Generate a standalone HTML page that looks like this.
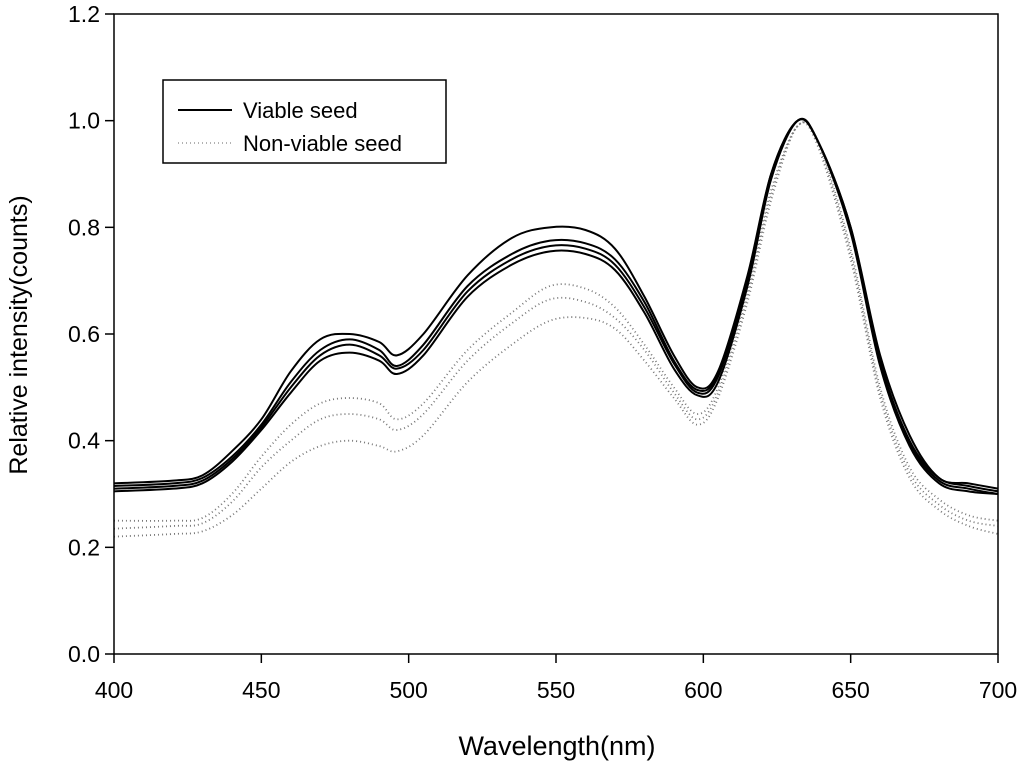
<!DOCTYPE html>
<html><head><meta charset="utf-8"><style>
html,body{margin:0;padding:0;background:#fff;}
svg{display:block;font-family:"Liberation Sans",Arial,sans-serif;}
</style></head><body>
<svg id="chart" width="1024" height="765" viewBox="0 0 1024 765">
<g id="plot"></g>
<text x="557" y="755" font-size="27" text-anchor="middle">Wavelength(nm)</text>
<text x="0" y="0" font-size="25" text-anchor="middle" transform="translate(27,335) rotate(-90)">Relative intensity(counts)</text>
<g>
<rect x="163" y="80" width="283" height="83" fill="#fff" stroke="#000" stroke-width="1.5"/>
<line x1="178" y1="110" x2="232" y2="110" stroke="#000" stroke-width="2"/>
<text x="243" y="118" font-size="22">Viable seed</text>
<line x1="178" y1="143" x2="232" y2="143" stroke="#999" stroke-width="1.5" stroke-dasharray="1,3"/>
<text x="243" y="151" font-size="22">Non-viable seed</text>
</g>
</svg>
<script>
const wavelengths=[400,420,430,440,450,460,470,480,490,496,505,520,535,548,560,570,580,590,598,605,615,623,632,639,650,660,670,680,690,700];
const viable1=[0.32,0.325,0.335,0.38,0.44,0.53,0.59,0.60,0.585,0.56,0.60,0.71,0.78,0.80,0.795,0.76,0.67,0.56,0.50,0.53,0.71,0.90,1.0,0.96,0.80,0.56,0.41,0.33,0.32,0.31];
const viable2=[0.315,0.32,0.33,0.37,0.43,0.51,0.57,0.59,0.57,0.54,0.58,0.69,0.75,0.775,0.77,0.74,0.66,0.55,0.495,0.525,0.70,0.90,1.0,0.96,0.80,0.55,0.40,0.33,0.315,0.305];
const viable3=[0.31,0.315,0.325,0.365,0.425,0.50,0.56,0.58,0.56,0.535,0.57,0.68,0.74,0.765,0.76,0.73,0.65,0.545,0.49,0.52,0.70,0.895,1.0,0.96,0.795,0.545,0.395,0.325,0.31,0.30];
const viable4=[0.305,0.31,0.32,0.36,0.42,0.49,0.55,0.565,0.55,0.525,0.56,0.67,0.73,0.755,0.75,0.72,0.64,0.535,0.485,0.51,0.69,0.89,1.0,0.96,0.79,0.54,0.39,0.32,0.305,0.30];
const nonviable1=[0.25,0.25,0.255,0.30,0.37,0.43,0.47,0.48,0.47,0.44,0.47,0.57,0.64,0.69,0.685,0.65,0.58,0.50,0.45,0.50,0.68,0.87,0.99,0.96,0.76,0.50,0.35,0.29,0.26,0.25];
const nonviable2=[0.235,0.24,0.245,0.285,0.35,0.40,0.44,0.45,0.44,0.42,0.45,0.55,0.62,0.665,0.66,0.63,0.57,0.49,0.44,0.49,0.67,0.86,0.99,0.955,0.75,0.49,0.34,0.28,0.25,0.24];
const nonviable3=[0.22,0.225,0.23,0.26,0.31,0.36,0.39,0.40,0.39,0.38,0.41,0.51,0.58,0.625,0.63,0.61,0.55,0.48,0.43,0.48,0.66,0.85,0.99,0.95,0.74,0.48,0.33,0.27,0.24,0.225];
const xTicks=[400,450,500,550,600,650,700];
const yTicks=[0.0,0.2,0.4,0.6,0.8,1.0,1.2];

const X0=114,X1=998,Y0=654,Y1=14;
function xs(v){return X0+(v-400)/300*(X1-X0);}
function ys(v){return Y0-(v/1.2)*(Y0-Y1);}
const NS='http://www.w3.org/2000/svg';
const g=document.getElementById('plot');
function mk(t,a){const e=document.createElementNS(NS,t);for(const k in a)e.setAttribute(k,a[k]);return e;}
function pathOf(arr){
  const p=wavelengths.map((w,i)=>[xs(w),ys(arr[i])]);
  let d='M'+p[0][0]+','+p[0][1];
  for(let i=0;i<p.length-1;i++){
    const a=p[Math.max(i-1,0)],b=p[i],c=p[i+1],e=p[Math.min(i+2,p.length-1)];
    const c1=[b[0]+(c[0]-a[0])/6,b[1]+(c[1]-a[1])/6],c2=[c[0]-(e[0]-b[0])/6,c[1]-(e[1]-b[1])/6];
    d+=' C'+c1[0]+','+c1[1]+' '+c2[0]+','+c2[1]+' '+c[0]+','+c[1];
  }
  return d;
}
[nonviable1,nonviable2,nonviable3].forEach((s,i)=>{
  const e=mk('path',{d:pathOf(s),fill:'none',stroke:'#777','stroke-width':1.8,'stroke-dasharray':'1,3'});
  
  
  g.appendChild(e);
});
[viable1,viable2,viable3,viable4].forEach((s,i)=>{
  const e=mk('path',{d:pathOf(s),fill:'none',stroke:'#000','stroke-width':2});
  
  
  g.appendChild(e);
});
const frame=mk('rect',{x:X0,y:Y1,width:X1-X0,height:Y0-Y1,fill:'none',stroke:'#000','stroke-width':1.5});


g.appendChild(frame);
xTicks.forEach(t=>{
  const l=mk('line',{x1:xs(t),x2:xs(t),y1:Y0,y2:Y0+9,stroke:'#000','stroke-width':1.5});
  
  
  g.appendChild(l);
  const tx=mk('text',{x:xs(t),y:Y0+44,'font-size':23,'text-anchor':'middle'});
  tx.textContent=t;
  
  
  g.appendChild(tx);
});
yTicks.forEach(t=>{
  const l=mk('line',{x1:X0-9,x2:X0,y1:ys(t),y2:ys(t),stroke:'#000','stroke-width':1.5});
  
  
  g.appendChild(l);
  const tx=mk('text',{x:X0-14,y:ys(t)+8,'font-size':23,'text-anchor':'end'});
  tx.textContent=t.toFixed(1);
  
  
  g.appendChild(tx);
});
</script>
</body></html>
